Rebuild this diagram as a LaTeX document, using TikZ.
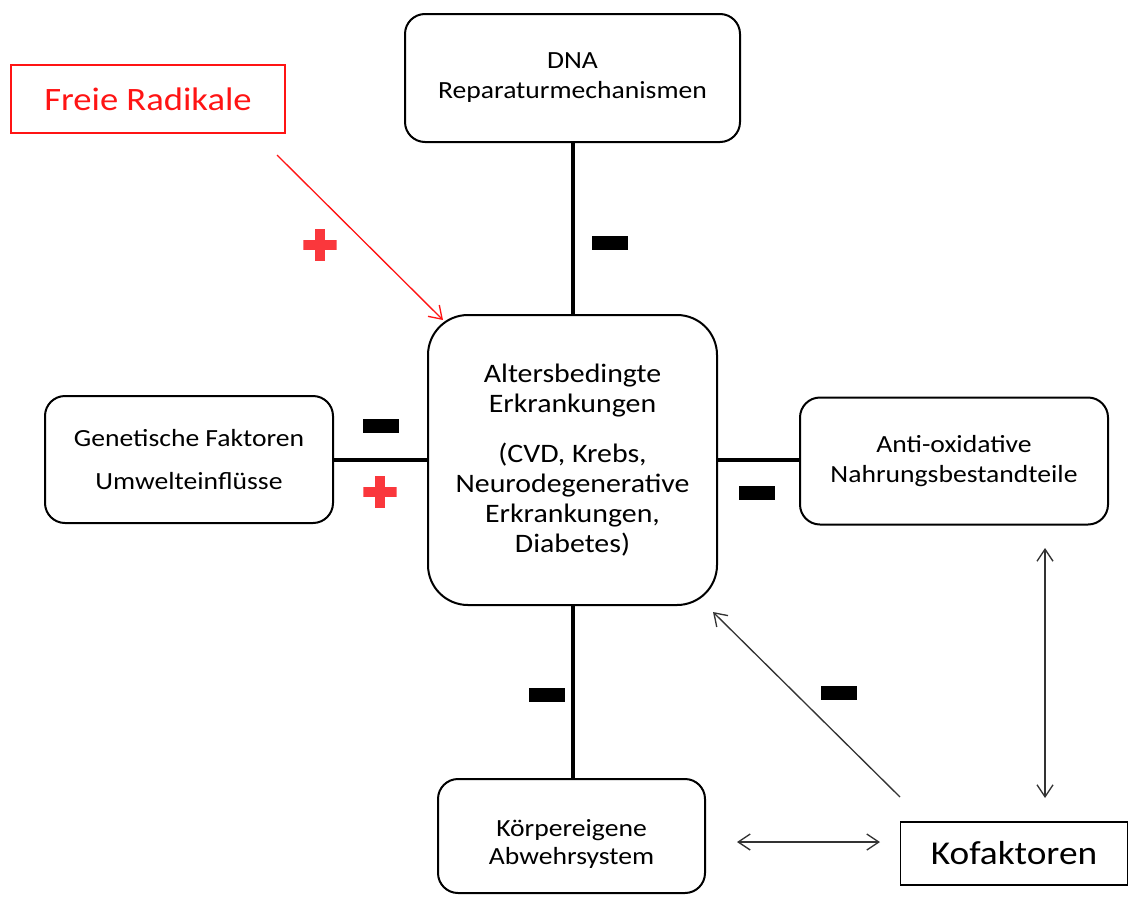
\documentclass[tikz,border=0pt]{standalone}
\usepackage{fontspec}
\setmainfont{Carlito}[FakeStretch=1.12]
\usetikzlibrary{arrows.meta}

\definecolor{radred}{RGB}{255,20,20}
\definecolor{plusred}{RGB}{250,55,60}

\tikzset{
  roundbox/.style={draw, line width=1.5pt, rounded corners=15pt, align=center, inner sep=0pt,
    font=\fontsize{18.5}{22.5}\selectfont},
  bigbox/.style={roundbox, rounded corners=30pt, font=\fontsize{20}{22.5}\selectfont},
  plainbox/.style={draw, line width=1.2pt, inner sep=0pt, font=\fontsize{25}{27}\selectfont},
  redbox/.style={plainbox, draw=radred, text=radred, font=\fontsize{24.5}{27}\selectfont},
  bar/.style={line width=3pt},
  thinarrow/.style={line width=1pt, -{Straight Barb[length=9pt,width=12pt]}},
  twoway/.style={line width=1pt, {Straight Barb[length=9pt,width=12pt]}-{Straight Barb[length=9pt,width=12pt]}},
  minusbar/.style={fill=black, inner sep=0pt, minimum width=27pt, minimum height=10.5pt},
  plussign/.style={inner sep=0pt, minimum size=25pt, path picture={
    \fill[plusred] ([xshift=-12.75pt,yshift=-3.75pt]path picture bounding box.center) rectangle ++(25.5pt,7.5pt);
    \fill[plusred] ([xshift=-3.75pt,yshift=-12pt]path picture bounding box.center) rectangle ++(7.5pt,24pt);}}
}

\begin{document}
\begin{tikzpicture}[x=0.75pt,y=0.75pt,yscale=-1,xscale=1]
\useasboundingbox (0,0) rectangle (1130,907);

%Boxes
\node[roundbox, minimum width=251.25pt, minimum height=96pt] (dna) at (572.5,78) {DNA\\Reparaturmechanismen};
\node[redbox, minimum width=205.5pt, minimum height=51pt] (radikale) at (148,99) {Freie Radikale};
\node[bigbox, minimum width=216.75pt, minimum height=217.5pt] (alter) at (572.5,460)
  {Altersbedingte\\Erkrankungen\\[15pt](CVD, Krebs,\\Neurodegenerative\\Erkrankungen,\\Diabetes)};
\node[roundbox, minimum width=216pt, minimum height=95.25pt] (genetik) at (189,459.5) {Genetische Faktoren\\[10pt]Umwelteinflüsse};
\node[roundbox, minimum width=231pt, minimum height=95.25pt] (anti) at (954,461) {Anti-oxidative\\Nahrungsbestandteile};
\node[roundbox, minimum width=200.25pt, minimum height=85.5pt, font=\fontsize{18.5}{21}\selectfont] (abwehr) at (571.5,836)
  {\rule{0pt}{24pt}Körpereigene\\Abwehrsystem};
\node[plainbox, minimum width=170.25pt, minimum height=47.25pt] (kofaktoren) at (1014,853.5) {Kofaktoren};

%free ends of the thin arrows
\coordinate (radstart) at (277,155);
\coordinate (radend) at (443,320);
\coordinate (kofstart) at (900,797);
\coordinate (kofend) at (713,612);
\coordinate (vtop) at (1045,548);
\coordinate (vbottom) at (1045,798);
\coordinate (hleft) at (737,842);
\coordinate (hright) at (880,842);

%Thick connectors
\draw[bar] (dna) -- (alter);
\draw[bar] (alter) -- (alter -| genetik.east);
\draw[bar] (alter) -- (alter -| anti.west);
\draw[bar] (alter.south) -- (alter.south |- abwehr.north);

%Thin arrows
\draw[thinarrow, radred] (radstart) -- (radend);
\draw[thinarrow, black!80] (kofstart) -- (kofend);
\draw[twoway, black!80] (vtop) -- (vbottom);
\draw[twoway, black!80] (hleft) -- (hright);

%Signs
\node[minusbar] (minusdna) at (610,243) {};
\node[minusbar] (minusgen) at (381,425.5) {};
\node[minusbar] (minusanti) at (757,493) {};
\node[minusbar] (minusabw) at (547,695) {};
\node[minusbar] (minuskof) at (839,692.5) {};
\node[plussign] (plusrad) at (320,245) {};
\node[plussign] (plusgen) at (380,492) {};

\end{tikzpicture}
\end{document}
